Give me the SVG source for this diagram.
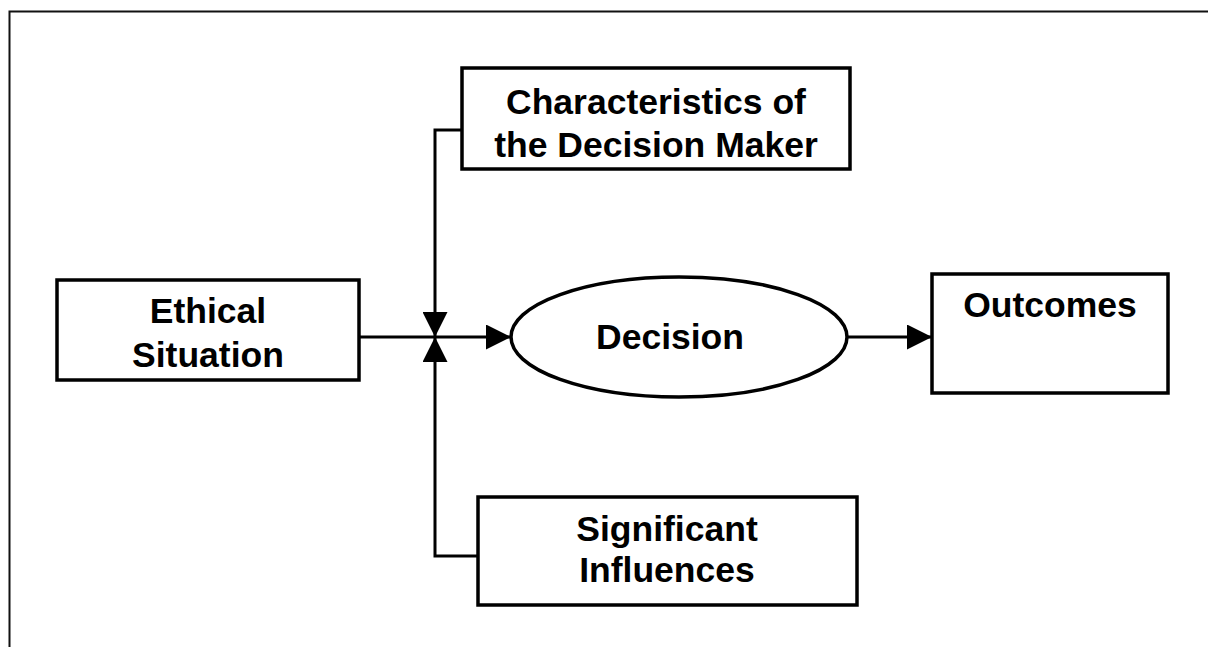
<svg xmlns="http://www.w3.org/2000/svg" width="1208" height="647" viewBox="0 0 1208 647">
<style>
.box{fill:#fff;stroke:#000;stroke-width:3.5}
.ln{fill:none;stroke:#000;stroke-width:3}
.t{font-family:"Liberation Sans",Arial,sans-serif;font-weight:bold;font-size:35.5px;fill:#000;text-anchor:middle}
</style>
<defs>
<marker id="ah" viewBox="0 0 25 25" refX="25" refY="12.5" markerWidth="25" markerHeight="25" markerUnits="userSpaceOnUse" orient="auto">
<path d="M0,0 L25,12.5 L0,25 Z" fill="#000"/>
</marker>
</defs>
<rect width="1208" height="647" fill="#fff"/>
<path d="M9.5,647 V11.5 H1208" fill="none" stroke="#111" stroke-width="2"/>
<g id="connectors">
<path class="ln" d="M359,337 H511" marker-end="url(#ah)"/>
<path class="ln" d="M462,130 H435 V337" marker-end="url(#ah)"/>
<path class="ln" d="M478,556 H435 V337" marker-end="url(#ah)"/>
<path class="ln" d="M847,337 H932" marker-end="url(#ah)"/>
</g>
<g id="ethical">
<rect class="box" x="57" y="280" width="302" height="100"/>
<text class="t" x="208" y="323">Ethical</text>
<text class="t" x="208" y="367">Situation</text>
</g>
<g id="characteristics">
<rect class="box" x="462" y="68" width="388" height="101"/>
<text class="t" x="656" y="114">Characteristics of</text>
<text class="t" x="656" y="157">the Decision Maker</text>
</g>
<g id="decision">
<ellipse class="box" cx="679" cy="337" rx="168" ry="60"/>
<text class="t" x="670" y="349">Decision</text>
</g>
<g id="outcomes">
<rect class="box" x="932" y="274" width="236" height="119"/>
<text class="t" x="1050" y="317">Outcomes</text>
</g>
<g id="significant">
<rect class="box" x="478" y="497" width="379" height="108"/>
<text class="t" x="667" y="541">Significant</text>
<text class="t" x="667" y="582">Influences</text>
</g>
</svg>
